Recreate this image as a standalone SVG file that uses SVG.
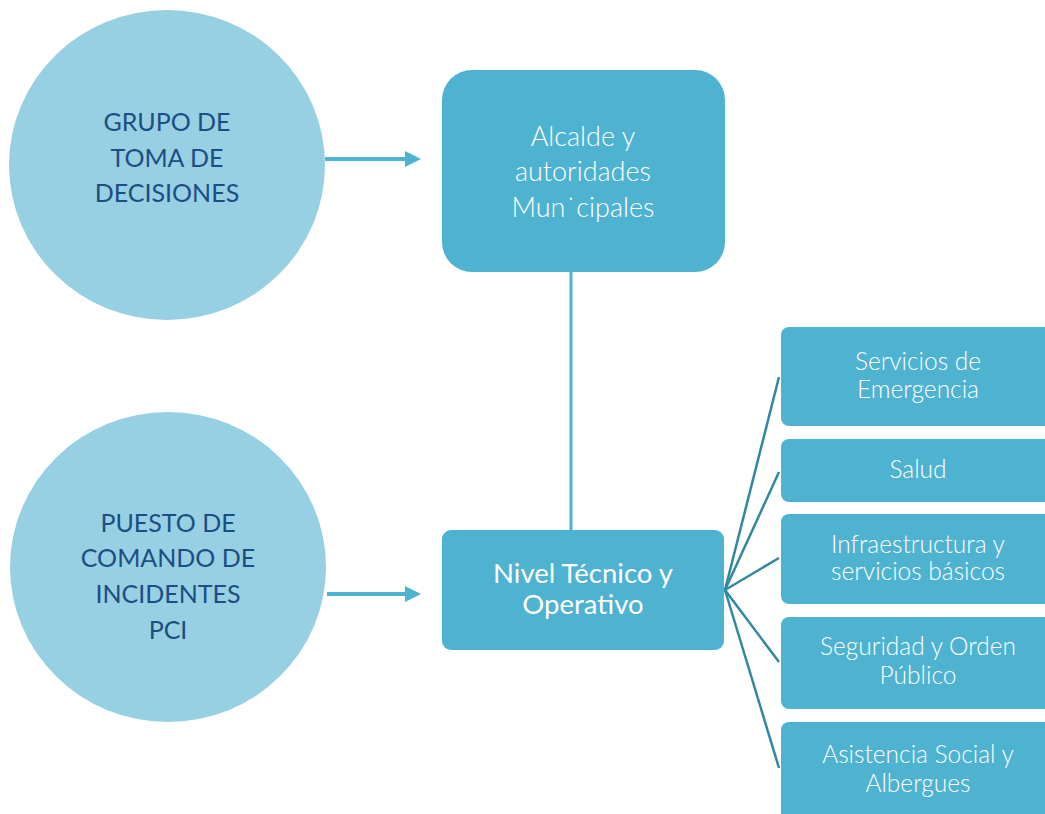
<svg xmlns="http://www.w3.org/2000/svg" width="1045" height="814" viewBox="0 0 1045 814">
<style>
.circ{fill:#97D0E2}
.box{fill:#4EB2D1}
.ct{font-family:Lato,"Open Sans",sans-serif;font-size:25px;fill:#1B4F82;text-anchor:middle}
.bt{font-family:Lato,"Open Sans",sans-serif;font-weight:300;font-size:27px;fill:#ffffff;text-anchor:middle}
.bt2{font-family:Lato,"Open Sans",sans-serif;font-size:27.5px;fill:#ffffff;text-anchor:middle}
.st{font-family:Lato,"Open Sans",sans-serif;font-weight:300;font-size:24.5px;fill:#ffffff;text-anchor:middle}
.arr{stroke:#4EB2D1;stroke-width:4;fill:none}
.fan{stroke:#31889F;stroke-width:2.5;fill:none}
</style>
<defs>
<marker id="ah" markerWidth="4" markerHeight="4" refX="0" refY="2" orient="auto" markerUnits="strokeWidth">
<path d="M0,0 L4,2 L0,4 Z" fill="#4EB2D1"/>
</marker>
</defs>
<g id="connectors">
<line class="arr" x1="325" y1="159" x2="405" y2="159" marker-end="url(#ah)"/>
<line class="arr" x1="327" y1="594" x2="405" y2="594" marker-end="url(#ah)"/>
<line x1="571" y1="272" x2="571" y2="530" stroke="#4EB2D1" stroke-width="3"/>
<line class="fan" x1="725" y1="590" x2="779" y2="377"/>
<line class="fan" x1="725" y1="590" x2="779" y2="472"/>
<line class="fan" x1="725" y1="590" x2="779" y2="558"/>
<line class="fan" x1="725" y1="590" x2="779" y2="662"/>
<line class="fan" x1="725" y1="590" x2="779" y2="768"/>
</g>
<g id="grupo">
<ellipse class="circ" cx="167" cy="165" rx="158" ry="155"/>
<text class="ct" x="167" y="131">GRUPO DE</text>
<text class="ct" x="167" y="167">TOMA DE</text>
<text class="ct" x="167" y="202">DECISIONES</text>
</g>
<g id="puesto">
<ellipse class="circ" cx="168" cy="567" rx="158" ry="155"/>
<text class="ct" x="168" y="532">PUESTO DE</text>
<text class="ct" x="168" y="567">COMANDO DE</text>
<text class="ct" x="168" y="603">INCIDENTES</text>
<text class="ct" x="168" y="639">PCI</text>
</g>
<g id="alcalde">
<rect class="box" x="442" y="70" width="283" height="202" rx="30"/>
<text class="bt" x="583" y="146">Alcalde y</text>
<text class="bt" x="583" y="181">autoridades</text>
<text class="bt" x="583" y="217">Mun˙cipales</text>
</g>
<g id="nivel">
<rect class="box" x="442" y="530" width="282" height="120" rx="9"/>
<text class="bt2" x="583" y="583">Nivel Técnico y</text>
<text class="bt2" x="583" y="614">Operativo</text>
</g>
<g id="servicios">
<rect class="box" x="781" y="327" width="274" height="99" rx="8"/>
<text class="st" x="918" y="370">Servicios de</text>
<text class="st" x="918" y="398">Emergencia</text>
</g>
<g id="salud">
<rect class="box" x="781" y="439" width="274" height="63" rx="8"/>
<text class="st" x="918" y="478">Salud</text>
</g>
<g id="infra">
<rect class="box" x="781" y="514" width="274" height="90" rx="8"/>
<text class="st" x="918" y="553">Infraestructura y</text>
<text class="st" x="918" y="580">servicios básicos</text>
</g>
<g id="seguridad">
<rect class="box" x="781" y="617" width="274" height="92" rx="8"/>
<text class="st" x="918" y="655">Seguridad y Orden</text>
<text class="st" x="918" y="684">Público</text>
</g>
<g id="asistencia">
<rect class="box" x="781" y="722" width="274" height="110" rx="8"/>
<text class="st" x="918" y="763">Asistencia Social y</text>
<text class="st" x="918" y="792">Albergues</text>
</g>
</svg>
